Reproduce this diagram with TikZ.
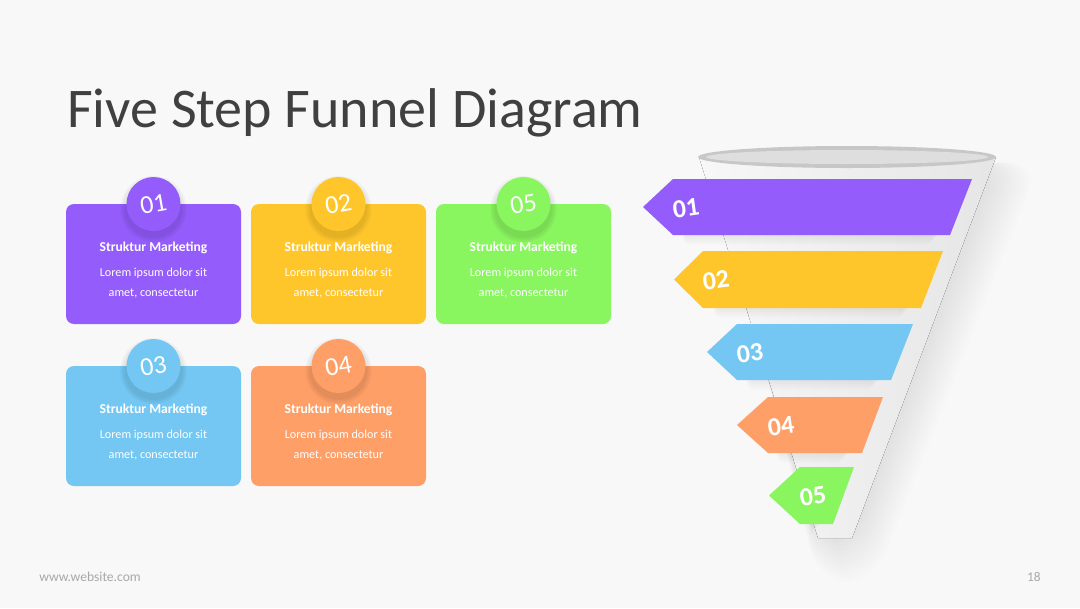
\documentclass[tikz,border=0pt]{standalone}
\usepackage{fontspec}
\setmainfont{Carlito}
\definecolor{bg}{HTML}{F8F8F8}
\definecolor{cpurple}{HTML}{945CFB}
\definecolor{cyellow}{HTML}{FFC62B}
\definecolor{cgreen}{HTML}{89F55F}
\definecolor{cblue}{HTML}{73C7F2}
\definecolor{corange}{HTML}{FE9F67}
\definecolor{titlegray}{HTML}{404040}
\definecolor{footgray}{HTML}{A8A8A8}
\tikzset{
  card/.style={rounded corners=6pt},
  badge/.style={circle, minimum size=40.5pt, inner sep=0pt, text=white, font=\fontsize{19.5}{19.5}\selectfont},
  cardhead/.style={text=white, font=\bfseries\fontsize{10.2}{11}\selectfont},
  cardbody/.style={text=white, align=center, font=\fontsize{9.1}{15}\selectfont},
  bandnum/.style={text=white, rotate=8, font=\bfseries\fontsize{19.5}{19.5}\selectfont},
  softshade/.style={fill=black, fill opacity=0.035},
}
\newcommand{\mkcard}[5]{%
  \fill[#3, card] (#1-87.5,#2) rectangle (#1+87.5,#2+120);
  \foreach \r in {33,31,29} {\fill[softshade] (#1,#2+5) circle (\r);}
  \node[badge, fill=#3] (b#5) at (#1,#2) {\rotatebox{10}{#4}};
  \node[cardhead] (h#5) at (#1,#2+44) {Struktur Marketing};
  \node[cardbody] (t#5) at (#1,#2+79) {Lorem ipsum dolor sit\\amet, consectetur};
}
\newcommand{\mkband}[8]{%
  \fill[#8] (#1,#2/2+#3/2) -- (#4,#2) -- (#5,#2) -- (#6,#3) -- (#4,#3) -- cycle;
  \node[bandnum] (n#7) at (#4+13,#2/2+#3/2+1) {0#7};
}
\begin{document}
\begin{tikzpicture}[x=0.75pt, y=-0.75pt]
\fill[bg] (0,0) rectangle (1080,608);
\useasboundingbox (0,0) rectangle (1080,608);

% title
\node[anchor=base west, text=titlegray, font=\fontsize{42}{42}\selectfont, inner sep=0pt] (title) at (67,127) {Five Step Funnel Diagram};

% cards
\mkcard{153.5}{204}{cpurple}{01}{1}
\mkcard{338.5}{204}{cyellow}{02}{2}
\mkcard{523.5}{204}{cgreen}{05}{3}
\mkcard{153.5}{366}{cblue}{03}{4}
\mkcard{338.5}{366}{corange}{04}{5}

% funnel soft shadow
\foreach \d in {44,40,36,32,28,24,20,16,12,8,4} {
  \fill[fill=black, fill opacity=0.009, rounded corners=24pt]
    (699+\d/3,157) -- (996+\d,163) -- (852+\d/2,538+\d) -- (818,538+\d) -- cycle;
}
% funnel body
\fill[left color=black!3, right color=black!10]
  (699,157) -- (996,157) -- (852,538) -- (818,538) -- cycle;
\fill[black!22] (847,157) ellipse [x radius=149, y radius=11];
\fill[black!13] (847,157) ellipse [x radius=141, y radius=7];

% band soft shadows
\foreach \t/\b/\l/\r in {179/235/643/972, 251/308/674/943, 324/380/707/913, 397/453/737/883, 467/524/769/854} {
  \foreach \d in {10,8,6,4,2} {
    \fill[fill=black, fill opacity=0.012, rounded corners=6pt] (\l+40,\b-10) rectangle (\r-30-\d,\b+\d);
  }
}

% bands
\mkband{643}{179}{235}{673}{972}{950}{1}{cpurple}
\mkband{674}{251}{308}{703}{943}{921}{2}{cyellow}
\mkband{707}{324}{380}{737}{913}{891}{3}{cblue}
\mkband{737}{397}{453}{768}{883}{862}{4}{corange}
\mkband{769}{467}{524}{800}{854}{833}{5}{cgreen}

% footer
\node[anchor=base west, text=footgray, font=\fontsize{10.2}{10}\selectfont, inner sep=0pt] (web) at (39,581) {www.website.com};
\node[anchor=base east, text=footgray, font=\fontsize{10}{10}\selectfont, inner sep=0pt] (page) at (1041,581) {18};
\end{tikzpicture}
\end{document}
